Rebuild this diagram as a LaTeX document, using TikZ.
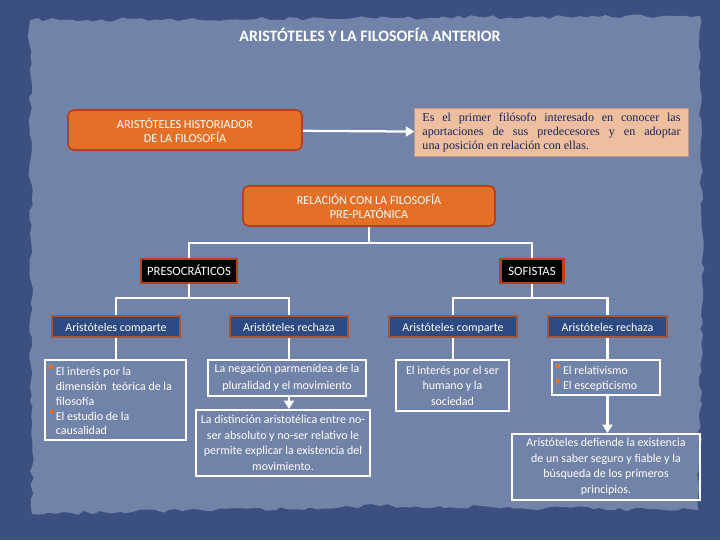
\documentclass[tikz,border=0pt]{standalone}
\usepackage{fontspec}
\setmainfont{Carlito}
\newfontfamily\peachfont{Liberation Serif}
\usetikzlibrary{arrows.meta,decorations.pathmorphing}

\definecolor{bgdark}{RGB}{60,80,128}
\definecolor{bginner}{RGB}{114,131,169}
\definecolor{orangefill}{RGB}{228,111,38}
\definecolor{orangeline}{RGB}{181,66,27}
\definecolor{peachfill}{RGB}{237,191,158}
\definecolor{peachline}{RGB}{196,152,126}
\definecolor{navytext}{RGB}{26,35,88}
\definecolor{blueboxfill}{RGB}{43,75,130}
\definecolor{blueboxline}{RGB}{160,88,60}
\definecolor{bulletorange}{RGB}{232,110,40}

\newcommand\bul{\makebox[5pt][l]{\textcolor{bulletorange}{\rule[4.5pt]{3pt}{3pt}}}}
\newcommand\ind{\hspace*{5pt}}

\tikzset{
  orangebox/.style={draw=orangeline,line width=1.2pt,fill=orangefill,rounded corners=4pt,
    text=white,align=center,font=\fontsize{8.7}{10}\selectfont},
  peachbox/.style={draw=peachline,line width=0.8pt,fill=peachfill,text=navytext,
    inner xsep=0.19cm,font=\peachfont\fontsize{8.6}{10}\selectfont},
  blackbox/.style={draw=orangeline,line width=1.6pt,fill=black,text=white,
    minimum height=0.6cm,inner sep=0pt,text height=1.7ex,text depth=0.3ex,
    font=\fontsize{9}{10}\selectfont},
  bluebox/.style={draw=blueboxline,line width=1.4pt,fill=blueboxfill,text=white,
    minimum height=0.53cm,inner sep=0pt,text height=1.7ex,text depth=0.3ex,
    font=\fontsize{8.5}{10}\selectfont},
  whitebox/.style={draw=white,line width=1.3pt,text=white,inner sep=0pt,align=center,
    font=\fontsize{8.5}{11}\selectfont},
  link/.style={draw=white,line width=1.6pt},
  linkarrow/.style={link,-{Triangle[length=6pt,width=7pt]}}
}

\begin{document}
\begin{tikzpicture}[x=0.025cm,y=-0.025cm]
\useasboundingbox (0,0) rectangle (720,540);
\fill[bgdark] (0,0) rectangle (720,540);
\fill[bginner,decorate,decoration={random steps,segment length=5pt,amplitude=1.5pt}]
  (30,20) -- (700,16) -- (703,300) -- (698,510) -- (380,506) -- (32,514) -- cycle;

\node[text=white,font=\bfseries\fontsize{11.3}{13}\selectfont] (title) at (370,35)
  {ARISTÓTELES Y LA FILOSOFÍA ANTERIOR};

\node[orangebox,minimum width=5.85cm,minimum height=1cm] (hist) at (185,130)
  {ARISTÓTELES HISTORIADOR\\DE LA FILOSOFÍA};
\node[peachbox,minimum height=1.13cm,align=left] (desc) at (551.5,132.5)
  {\makebox[6.45cm][s]{Es el primer filósofo interesado en conocer las}\\
   \makebox[6.45cm][s]{aportaciones de sus predecesores y en adoptar}\\
   \makebox[6.45cm][l]{una posición en relación con ellas.}};
\draw[linkarrow] (hist) -- (desc);

\node[orangebox,minimum width=6.3cm,minimum height=1cm] (rel) at (369,206)
  {RELACIÓN CON LA FILOSOFÍA\\PRE-PLATÓNICA};

\node[blackbox,minimum width=2.4cm] (pre) at (189,271) {PRESOCRÁTICOS};
\node[blackbox,minimum width=1.58cm] (sof) at (532,271) {SOFISTAS};
\coordinate (relbar) at (369,243);
\draw[link] (rel.south) -- (relbar);
\draw[link] (pre.north) |- (relbar) -| (sof.north);

\node[bluebox,minimum width=3.2cm] (precomp) at (116,326.5) {Aristóteles comparte};
\node[bluebox,minimum width=2.95cm] (prerech) at (289,326.5) {Aristóteles rechaza};
\node[bluebox,minimum width=3.2cm] (sofcomp) at (453,326.5) {Aristóteles comparte};
\node[bluebox,minimum width=2.98cm] (sofrech) at (607.5,326.5) {Aristóteles rechaza};
\coordinate (prebar) at (189,298);
\coordinate (sofbar) at (532,298);
\draw[link] (pre.south) -- (prebar);
\draw[link] (precomp.north) |- (prebar) -| (prerech.north);
\draw[link] (sof.south) -- (sofbar);
\draw[link] (sofcomp.north) |- (sofbar) -| (sofrech.north);

\node[whitebox,minimum width=3.53cm,minimum height=2cm,text width=3.33cm,align=flush left,
  font=\fontsize{8.5}{10.5}\selectfont] (precompT) at (115.5,400)
  {\bul El interés por la\\\ind dimensión\ \ teórica de la\\\ind filosofía\\
   \bul El estudio de la\\\ind causalidad};
\node[whitebox,minimum width=3.95cm,minimum height=0.9cm,font=\fontsize{8.5}{12}\selectfont] (prerechT) at (287,378)
  {La negación parmenídea de la\\pluralidad y el movimiento};
\node[whitebox,minimum width=4.35cm,minimum height=1.65cm] (prerechT2) at (283,443)
  {La distinción aristotélica entre no-\\ser absoluto y no-ser relativo le\\
   permite explicar la existencia del\\movimiento.};
\node[whitebox,minimum width=2.83cm,minimum height=1.28cm] (sofcompT) at (452.5,385.5)
  {El interés por el ser\\humano y la\\sociedad};
\node[whitebox,minimum width=2.7cm,minimum height=0.88cm,text width=2.5cm,align=flush left] (sofrechT) at (606,377.5)
  {\bul El relativismo\\\bul El escepticismo};
\node[whitebox,minimum width=4.7cm,minimum height=1.65cm] (sofrechT2) at (606,467)
  {Aristóteles defiende la existencia\\de un saber seguro y fiable y la\\
   búsqueda de los primeros\\principios.};

\draw[link] (precomp.south) -- (precomp.south |- precompT.north);
\draw[link] (prerech.south) -- (prerech.south |- prerechT.north);
\draw[link] (sofcomp.south) -- (sofcomp.south |- sofcompT.north);
\draw[link] (sofrech.south) -- (sofrech.south |- sofrechT.north);
\draw[linkarrow] (prerech.south |- prerechT.south) -- (prerech.south |- prerechT2.north);
\draw[linkarrow] (sofrech.south |- sofrechT.south) -- (sofrech.south |- sofrechT2.north);
\end{tikzpicture}
\end{document}
